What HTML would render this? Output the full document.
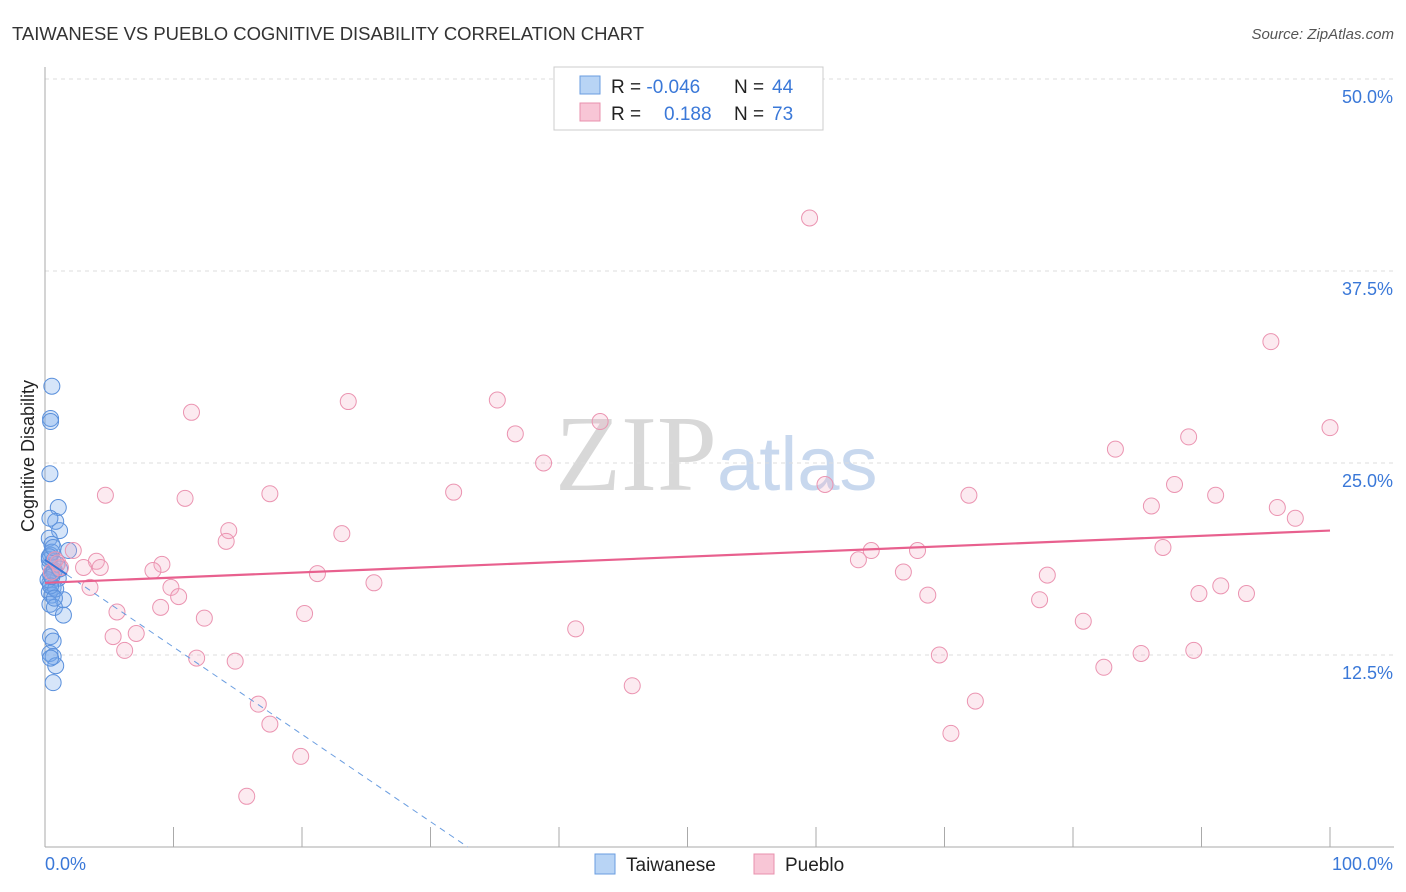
<!DOCTYPE html>
<html><head><meta charset="utf-8">
<style>
body{margin:0;background:#fff;font-family:"Liberation Sans",sans-serif;}
#wrap{position:relative;width:1406px;height:892px;overflow:hidden;}
</style></head>
<body>
<div id="wrap">
<svg id="svg" width="1406" height="892" xmlns="http://www.w3.org/2000/svg">
<text x="12" y="40" font-size="18.5" fill="#333" textLength="632">TAIWANESE VS PUEBLO COGNITIVE DISABILITY CORRELATION CHART</text>
<text x="1394" y="39" font-size="15" fill="#555" font-style="italic" text-anchor="end">Source: ZipAtlas.com</text>
<text x="34" y="456" font-size="18" fill="#222" text-anchor="middle" transform="rotate(-90 34 456)">Cognitive Disability</text>
<text x="555" y="490" font-size="108" fill="#d8d8d8" font-family="Liberation Serif,serif">ZIP<tspan fill="#c8d8ee" font-family="Liberation Sans,sans-serif" font-size="76">atlas</tspan></text>
<g id="grid"></g><g id="marks"></g>
<g>
<rect x="554" y="67" width="269" height="63" fill="#fff" stroke="#ccc"/>
<rect x="580" y="76" width="20" height="18" fill="#b8d4f5" stroke="#6a9de0"/>
<rect x="580" y="103" width="20" height="18" fill="#f8c6d6" stroke="#e890ad"/>
<text x="611" y="93" font-size="19" fill="#222">R = <tspan fill="#3a78d8">-0.046</tspan><tspan x="734">N = </tspan><tspan x="772" fill="#3a78d8">44</tspan></text>
<text x="611" y="120" font-size="19" fill="#222">R = <tspan x="664" fill="#3a78d8">0.188</tspan><tspan x="734">N = </tspan><tspan x="772" fill="#3a78d8">73</tspan></text>
</g>
<g>
<rect x="595" y="854" width="20" height="20" fill="#b8d4f5" stroke="#6a9de0"/>
<text x="626" y="871" font-size="19" fill="#222">Taiwanese</text>
<rect x="754" y="854" width="20" height="20" fill="#f8c6d6" stroke="#e890ad"/>
<text x="785" y="871" font-size="19" fill="#222">Pueblo</text>
</g>
</svg>
</div>
<script>
const yTicks=[12.5,25.0,37.5,50.0];
const yTickLabels=["12.5%","25.0%","37.5%","50.0%"];
const xTicks=[0,10,20,30,40,50,60,70,80,90,100];
const blueX=[0.3,0.2,0.2,0.15,0.8,0.6,0.9,0.15,0.1,0.3,1.6,0.2,0.4,0.15,0.5,0.2,0.8,0.15,0.4,0.1,0.3,1.2,0.15,0.5,1.2,0.2,0.4,0.15,0.4,0.6,0.4,0.1,0.45,0,0.7,0.3,0.6,0.2,0.1,0.5,0.3,0.2,0.9,0.4];
const blueY=[30.0,27.9,27.7,24.3,22.1,21.2,20.6,21.4,20.1,19.7,19.3,19.0,18.6,18.3,18.0,17.7,17.5,17.2,16.9,16.6,16.4,16.1,15.8,15.6,15.1,13.7,13.4,12.6,12.4,11.8,10.7,18.7,17.9,17.4,18.4,19.2,16.8,17.0,18.9,16.2,17.6,12.3,18.1,19.5];
const pinkX=[59.5,95.4,23.6,35.2,11.4,43.2,36.6,100,89.0,83.3,38.8,60.7,31.8,4.7,10.9,17.5,71.9,87.9,91.1,86.1,95.9,97.3,14.3,23.1,14.1,2.2,4.0,9.1,4.3,3.0,1.0,1.2,8.4,64.3,67.9,63.3,87.0,21.2,78.0,25.6,9.8,3.5,10.4,66.8,91.5,89.8,93.5,68.7,77.4,9.0,5.6,20.2,12.4,80.8,41.3,7.1,5.3,6.2,11.8,14.8,69.6,85.3,89.4,82.4,45.7,72.4,16.6,17.5,70.5,19.9,15.7,0.5,0.8];
const pinkY=[40.95,32.9,29.0,29.1,28.3,27.7,26.9,27.3,26.7,25.9,25.0,23.6,23.1,22.9,22.7,23.0,22.9,23.6,22.9,22.2,22.1,21.4,20.6,20.4,19.9,19.3,18.6,18.4,18.2,18.2,18.5,18.2,18.0,19.3,19.3,18.7,19.5,17.8,17.7,17.2,16.9,16.9,16.3,17.9,17.0,16.5,16.5,16.4,16.1,15.6,15.3,15.2,14.9,14.7,14.2,13.9,13.7,12.8,12.3,12.1,12.5,12.6,12.8,11.7,10.5,9.5,9.3,8.0,7.4,5.9,3.3,17.9,18.7];
const pinkTrend=[17.2,20.6];
const blueTrend=[18.7,0];
const blueZeroX=32.9;
const NS="http://www.w3.org/2000/svg";
const X0=45,X1=1330,Y0=847,Y1=79;
const xs=v=>X0+(X1-X0)*v/100;
const ys=v=>Y0-(Y0-Y1)*v/50;
function mk(t,a,p){const e=document.createElementNS(NS,t);for(const k in a)e.setAttribute(k,a[k]);p.appendChild(e);return e;}
const grid=document.getElementById('grid'),marks=document.getElementById('marks');
yTicks.forEach((t,i)=>{
  const l=mk('line',{x1:X0,x2:1394,y1:ys(t),y2:ys(t),stroke:'#ddd','stroke-dasharray':'4,4'},grid);
  
  
  const tx=mk('text',{x:1393,y:ys(t)+24,'font-size':18,fill:'#3a78d8','text-anchor':'end'},grid);
  tx.textContent=yTickLabels[i];
  
  
});
const ax=mk('line',{x1:X0,x2:X0,y1:67,y2:Y0,stroke:'#aaa'},grid);


const bx=mk('line',{x1:X0,x2:1394,y1:Y0,y2:Y0,stroke:'#aaa'},grid);


xTicks.forEach(t=>{const l=mk('line',{x1:xs(t),x2:xs(t),y1:827,y2:Y0,stroke:'#aaa'},grid);
  
  });
const xl=mk('text',{x:45,y:870,'font-size':18,fill:'#3a78d8'},grid);xl.textContent='0.0%';


const xr=mk('text',{x:1393,y:870,'font-size':18,fill:'#3a78d8','text-anchor':'end'},grid);xr.textContent='100.0%';


blueX.forEach((v,i)=>{const c=mk('circle',{cx:xs(v)+3,cy:ys(blueY[i]),r:8,fill:'rgba(120,170,235,0.3)',stroke:'#5a90dc','stroke-width':1},marks);
  
  });
pinkX.forEach((v,i)=>{const c=mk('circle',{cx:xs(v),cy:ys(pinkY[i]),r:8,fill:'rgba(245,170,195,0.25)',stroke:'#eb94b1','stroke-width':1},marks);
  
  });
const bd=mk('line',{x1:xs(1.7),y1:ys(blueTrend[0]+(blueTrend[1]-blueTrend[0])*1.7/blueZeroX),x2:xs(blueZeroX),y2:ys(blueTrend[1]),stroke:'#6a9de0','stroke-dasharray':'6,5'},marks);


const bs=mk('line',{x1:xs(0),y1:ys(blueTrend[0]),x2:xs(1.7),y2:ys(blueTrend[0]+(blueTrend[1]-blueTrend[0])*1.7/blueZeroX),stroke:'#3a78d8','stroke-width':2},marks);


const pt=mk('line',{x1:xs(0),y1:ys(pinkTrend[0]),x2:xs(100),y2:ys(pinkTrend[1]),stroke:'#e8608e','stroke-width':2.2},marks);


</script>
</body></html>
